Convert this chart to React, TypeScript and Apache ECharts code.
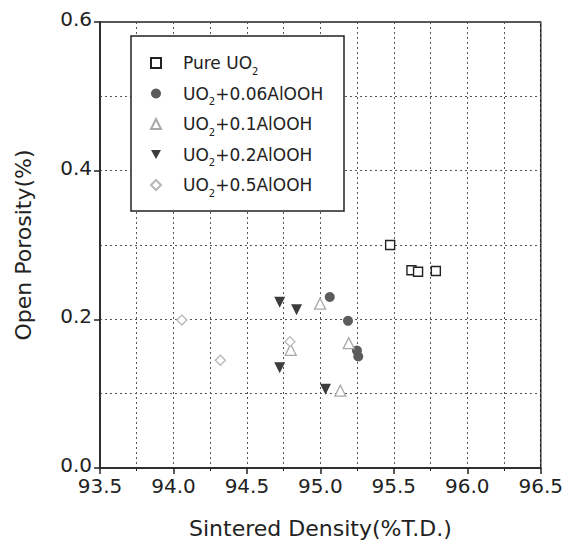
import React, { useEffect, useRef } from "react";
import * as echarts from "echarts";

const xTicks = { min: 93.5, max: 96.5, step: 0.5 };
const yTicks = { min: 0, max: 0.6, step: 0.2 };

const seriesNames = ["Pure UO2", "UO2+0.06AlOOH", "UO2+0.1AlOOH", "UO2+0.2AlOOH", "UO2+0.5AlOOH"];

const pureUO2: number[][] = [
  [95.475, 0.3],
  [95.62, 0.266],
  [95.665, 0.264],
  [95.786, 0.265],
];
const al006: number[][] = [
  [95.064, 0.23],
  [95.188, 0.198],
  [95.249, 0.158],
  [95.258, 0.15],
];
const al01: number[][] = [
  [94.998, 0.221],
  [95.193, 0.168],
  [95.136, 0.104],
  [94.798, 0.159],
];
const al02: number[][] = [
  [94.723, 0.223],
  [94.838, 0.213],
  [94.723, 0.135],
  [95.035, 0.106],
];
const al05: number[][] = [
  [94.057, 0.199],
  [94.319, 0.145],
  [94.793, 0.17],
];

const FONT = "DejaVu Sans";

export default function App() {
  const ref = useRef<HTMLDivElement>(null);
  useEffect(() => {
    if (!ref.current) return;
    const chart = echarts.init(ref.current, undefined, { renderer: "svg" });
    const axisColor = "#222";
    const gridLine = { show: true, lineStyle: { type: [2, 3], color: "#555", width: 1 } };
    const legendLabel = (name: string) => name.replace("UO2", "UO{sub|2}");
    const legendData = seriesNames.map((n, i) =>
      i === 3 ? { name: n, icon: "path://M0,0 L10,0 L5,9 Z" } : { name: n }
    );
    chart.setOption({
      animation: false,
      backgroundColor: "#fff",
      grid: {
        left: 100,
        right: 23,
        top: 22,
        bottom: 74,
        show: true,
        borderColor: axisColor,
        borderWidth: 1.5,
        backgroundColor: "transparent",
      },
      graphic: [
        {
          type: "rect",
          shape: { x: 131, y: 36, width: 213, height: 175 },
          style: { fill: "#fff", stroke: "#222", lineWidth: 1.5 },
          z: 50,
        },
      ],
      legend: {
        orient: "vertical",
        left: 150,
        top: 50,
        padding: 0,
        itemWidth: 10,
        itemHeight: 10,
        itemGap: 4.5,
        z: 60,
        data: legendData,
        formatter: legendLabel,
        textStyle: {
          fontFamily: FONT,
          fontSize: 17,
          color: "#222",
          lineHeight: 26,
          padding: [0, 0, 0, 17],
          rich: {
            sub: { fontFamily: FONT, fontSize: 10, color: "#222", lineHeight: 26, verticalAlign: "bottom" },
          },
        },
      },
      xAxis: {
        type: "value",
        min: xTicks.min,
        max: xTicks.max,
        interval: xTicks.step,
        name: "Sintered Density(%T.D.)",
        nameLocation: "middle",
        nameGap: 49,
        nameTextStyle: { fontFamily: FONT, fontSize: 22, color: "#222" },
        axisLine: { show: true, onZero: false, lineStyle: { color: axisColor, width: 1.5 } },
        axisTick: { show: true, inside: false, length: 6, lineStyle: { color: axisColor, width: 1.5 } },
        minorTick: { show: true, splitNumber: 2, length: 3, lineStyle: { color: axisColor, width: 1 } },
        splitLine: gridLine,
        minorSplitLine: gridLine,
        axisLabel: {
          fontFamily: FONT,
          fontSize: 20,
          color: "#222",
          margin: 8,
          formatter: (v: number) => v.toFixed(1),
        },
      },
      yAxis: {
        type: "value",
        min: yTicks.min,
        max: yTicks.max,
        interval: yTicks.step,
        name: "Open Porosity(%)",
        nameLocation: "middle",
        nameGap: 66,
        nameTextStyle: { fontFamily: FONT, fontSize: 22, color: "#222" },
        axisLine: { show: true, onZero: false, lineStyle: { color: axisColor, width: 1.5 } },
        axisTick: { show: true, inside: false, length: 6, lineStyle: { color: axisColor, width: 1.5 } },
        minorTick: { show: false, splitNumber: 2 },
        splitLine: gridLine,
        minorSplitLine: gridLine,
        axisLabel: {
          fontFamily: FONT,
          fontSize: 20,
          color: "#222",
          margin: 8,
          verticalAlign: "bottom",
          padding: [0, 0, -7, 0],
          formatter: (v: number) => v.toFixed(1),
        },
      },
      series: [
        {
          name: seriesNames[0],
          type: "scatter",
          data: pureUO2,
          symbol: "rect",
          symbolSize: 9,
          itemStyle: { color: "#fff", borderColor: "#222", borderWidth: 1.4, opacity: 1 },
        },
        {
          name: seriesNames[1],
          type: "scatter",
          data: al006,
          symbol: "circle",
          symbolSize: 10,
          itemStyle: { color: "#5c5c5c", opacity: 1 },
        },
        {
          name: seriesNames[2],
          type: "scatter",
          data: al01,
          symbol: "triangle",
          symbolSize: 11,
          itemStyle: { color: "#fff", borderColor: "#a8a8a8", borderWidth: 1.3, opacity: 1 },
        },
        {
          name: seriesNames[3],
          type: "scatter",
          data: al02,
          symbol: "triangle",
          symbolRotate: 180,
          symbolSize: 11,
          itemStyle: { color: "#3c3c3c", opacity: 1 },
        },
        {
          name: seriesNames[4],
          type: "scatter",
          data: al05,
          symbol: "diamond",
          symbolSize: 10,
          itemStyle: { color: "#fff", borderColor: "#b8b8b8", borderWidth: 1.3, opacity: 1 },
        },
      ],
    });
    return () => chart.dispose();
  }, []);
  return (
    <div
      ref={ref}
      style={{ position: "absolute", left: 0, top: 0, width: 566, height: 544 }}
    />
  );
}
